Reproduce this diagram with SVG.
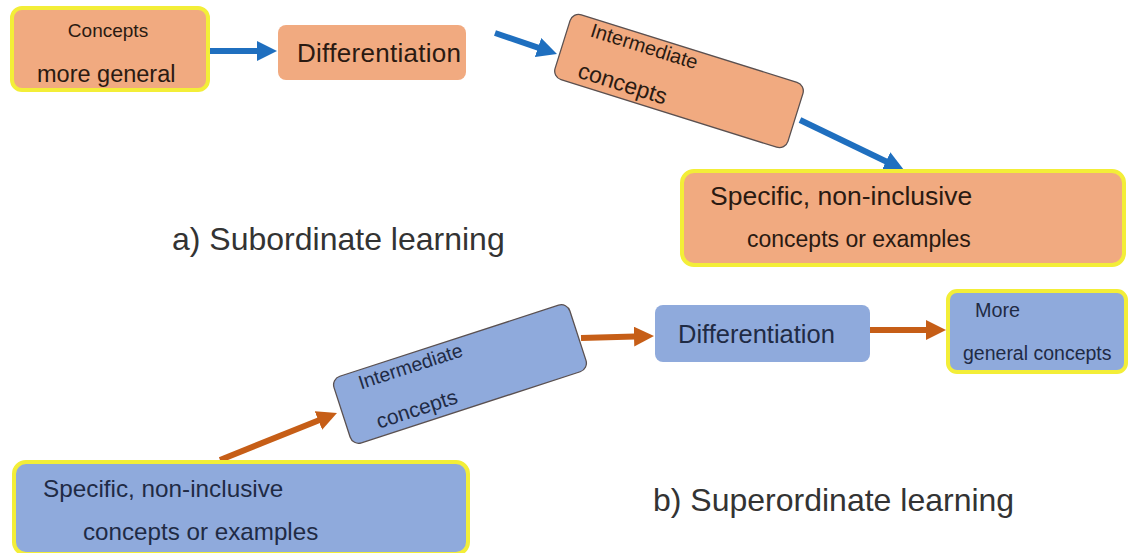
<svg xmlns="http://www.w3.org/2000/svg" width="1130" height="553" viewBox="0 0 1130 553">
<defs>
<style>
.or{fill:#F1AA80;}
.bl{fill:#8FAADC;}
.yb{stroke:#F3EE38;stroke-width:4;}
.gb{stroke:#5a5050;stroke-width:1.3;}
.t{font-family:"Liberation Sans",Arial,sans-serif;}
.to{fill:#2a1a12;}
.tb{fill:#1f2b45;}
.lab{font-family:"Liberation Sans",Arial,sans-serif;font-size:32px;fill:#333333;}
.ab{stroke:#1F6FBF;stroke-width:6;fill:none;}
.ao{stroke:#C65E17;stroke-width:6;fill:none;}
</style>
<marker id="mb" viewBox="0 0 20 20" markerWidth="20" markerHeight="20" refX="10" refY="10" orient="auto" markerUnits="userSpaceOnUse"><path d="M0,0 L20,10 L0,20 Z" fill="#1F6FBF"/></marker>
<marker id="mo" viewBox="0 0 20 20" markerWidth="20" markerHeight="20" refX="10" refY="10" orient="auto" markerUnits="userSpaceOnUse"><path d="M0,0 L20,10 L0,20 Z" fill="#C65E17"/></marker>
</defs>
<rect width="1130" height="553" fill="#ffffff"/>

<g id="connectors">
<line class="ab" x1="208" y1="51" x2="267" y2="51" marker-end="url(#mb)"/>
<line class="ab" x1="495" y1="33" x2="547.5" y2="50.8" marker-end="url(#mb)"/>
<line class="ab" x1="800" y1="120" x2="895" y2="165.7" marker-end="url(#mb)"/>
<line class="ao" x1="220" y1="460" x2="327.7" y2="416.7" marker-end="url(#mo)"/>
<line class="ao" x1="581" y1="338" x2="644" y2="336.3" marker-end="url(#mo)"/>
<line class="ao" x1="870" y1="330" x2="936" y2="330" marker-end="url(#mo)"/>
</g>

<g id="a-general">
<rect class="or yb" x="12" y="8" width="196" height="82" rx="10"/>
<text class="t to" x="108" y="37" font-size="19" text-anchor="middle">Concepts</text>
<text class="t to" x="37" y="82" font-size="23.5">more general</text>
</g>

<g id="a-diff">
<rect class="or" x="278" y="25" width="188" height="55" rx="8"/>
<text class="t to" x="297" y="62" font-size="26" textLength="164">Differentiation</text>
</g>

<g id="a-inter" transform="rotate(17.4 679 81)">
<rect class="or gb" x="557" y="47" width="244" height="68" rx="9"/>
<text class="t to" x="580" y="65" font-size="20">Intermediate</text>
<text class="t to" x="580" y="108" font-size="23">concepts</text>
</g>

<g id="a-specific">
<rect class="or yb" x="682" y="171" width="442" height="94" rx="12"/>
<text class="t to" x="710" y="205" font-size="26.5">Specific, non-inclusive</text>
<text class="t to" x="747" y="247" font-size="23">concepts or examples</text>
</g>

<text class="lab" x="172" y="250">a) Subordinate learning</text>

<g id="b-specific">
<rect class="bl yb" x="14" y="462" width="454" height="92" rx="12"/>
<text class="t tb" x="43" y="497" font-size="24.3">Specific, non-inclusive</text>
<text class="t tb" x="83" y="540" font-size="24.2">concepts or examples</text>
</g>

<g id="b-inter" transform="rotate(-18 460 374)">
<rect class="bl gb" x="336" y="339" width="248" height="70" rx="9"/>
<text class="t tb" x="361" y="358" font-size="19.5">Intermediate</text>
<text class="t tb" x="366" y="401" font-size="21">concepts</text>
</g>

<g id="b-diff">
<rect class="bl" x="655" y="305" width="215" height="57" rx="8"/>
<text class="t tb" x="678" y="343" font-size="25.5">Differentiation</text>
</g>

<g id="b-general">
<rect class="bl yb" x="948" y="291" width="178" height="81" rx="9"/>
<text class="t tb" x="975" y="317" font-size="19.8">More</text>
<text class="t tb" x="963" y="360" font-size="19.5">general concepts</text>
</g>

<text class="lab" x="653" y="511">b) Superordinate learning</text>
</svg>
